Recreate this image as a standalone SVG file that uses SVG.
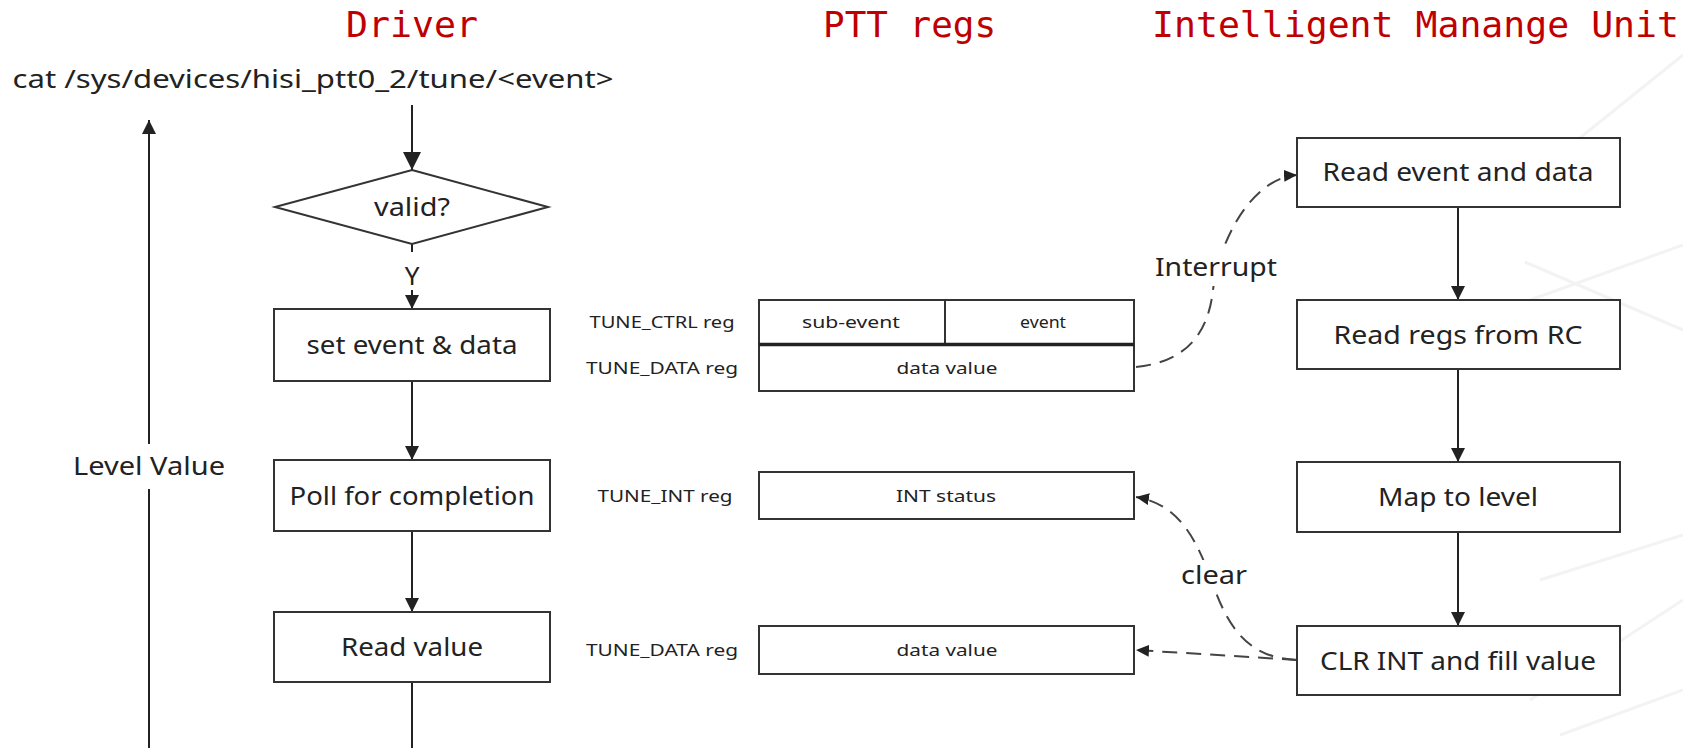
<svg xmlns="http://www.w3.org/2000/svg" width="1683" height="748" viewBox="0 0 1683 748">
<style>
.title{font-family:"DejaVu Sans Mono","Liberation Mono",monospace;font-size:36px;fill:#c00000}
.t{font-family:"Noto Sans","DejaVu Sans",sans-serif;font-size:26px;fill:#222;text-anchor:middle}
.s{font-family:"Noto Sans","DejaVu Sans",sans-serif;font-size:17px;fill:#222;text-anchor:middle}
.box{fill:#fff;stroke:#333;stroke-width:2}
.line{fill:none;stroke:#222;stroke-width:2}
.dash{fill:none;stroke:#444;stroke-width:2;stroke-dasharray:15 9}
.bg{stroke:#f3f3f3;stroke-width:3;fill:none}
</style>
<defs>
<marker id="ah" markerUnits="userSpaceOnUse" markerWidth="14" markerHeight="14" refX="14" refY="7" orient="auto"><path d="M0,0 L14,7 L0,14 z" fill="#222"/></marker>
<marker id="ahb" markerUnits="userSpaceOnUse" markerWidth="18" markerHeight="18" refX="18" refY="9" orient="auto"><path d="M0,0 L18,9 L0,18 z" fill="#222"/></marker>
<marker id="ahd" markerUnits="userSpaceOnUse" markerWidth="14" markerHeight="14" refX="13" refY="6" orient="auto"><path d="M0,0 L13,6 L0,12 z" fill="#222"/></marker>
</defs>
<rect width="1683" height="748" fill="#fff"/>
<g id="background">
<path class="bg" d="M1540,170 L1683,55"/>
<path class="bg" d="M1525,262 L1683,330"/>
<path class="bg" d="M1530,300 L1683,245"/>
<path class="bg" d="M1540,580 L1683,535"/>
<path class="bg" d="M1530,700 L1683,600"/>
<path class="bg" d="M1560,735 L1683,690"/>
</g>
<g id="headers">
<text class="title" x="346" y="37" textLength="132" lengthAdjust="spacingAndGlyphs">Driver</text>
<text class="title" x="823" y="37" textLength="173" lengthAdjust="spacingAndGlyphs">PTT regs</text>
<text class="title" x="1152" y="37" textLength="527" lengthAdjust="spacingAndGlyphs">Intelligent Manange Unit</text>
</g>
<g id="connectors">
<path class="line" d="M412,105 L412,170" marker-end="url(#ahb)"/>
<path class="line" d="M412,244 L412,252"/>
<path class="line" d="M412,290 L412,309" marker-end="url(#ah)"/>
<path class="line" d="M412,381 L412,460" marker-end="url(#ah)"/>
<path class="line" d="M412,531 L412,612" marker-end="url(#ah)"/>
<path class="line" d="M412,682 L412,748"/>
<path class="line" d="M149,444 L149,120" marker-end="url(#ah)"/>
<path class="line" d="M149,748 L149,489"/>
<path class="line" d="M1458,207 L1458,300" marker-end="url(#ah)"/>
<path class="line" d="M1458,369 L1458,462" marker-end="url(#ah)"/>
<path class="line" d="M1458,532 L1458,626" marker-end="url(#ah)"/>
<path class="dash" d="M1136,367 C1185,362 1208,335 1213,290 C1218,245 1250,178 1297,175" marker-end="url(#ahd)"/>
<path class="dash" d="M1297,660 C1250,658 1230,630 1215,590 C1200,550 1185,505 1136,497" marker-end="url(#ahd)"/>
<path class="dash" d="M1297,660 L1136,650" marker-end="url(#ahd)"/>
</g>
<g id="cmd">
<text class="t" x="313" y="88" textLength="601" lengthAdjust="spacingAndGlyphs">cat /sys/devices/hisi_ptt0_2/tune/&lt;event&gt;</text>
</g>
<g id="level-value">
<text class="t" x="149" y="475" textLength="152" lengthAdjust="spacingAndGlyphs">Level Value</text>
</g>
<g id="valid">
<polygon class="box" points="412,170 548,207 412,244 275,207"/>
<text class="t" x="412" y="216" textLength="76" lengthAdjust="spacingAndGlyphs">valid?</text>
</g>
<g id="label-y">
<text class="t" x="412" y="285">Y</text>
</g>
<g id="set-event">
<rect class="box" x="274" y="309" width="276" height="72"/>
<text class="t" x="412" y="354" textLength="211" lengthAdjust="spacingAndGlyphs">set event &amp; data</text>
</g>
<g id="poll">
<rect class="box" x="274" y="460" width="276" height="71"/>
<text class="t" x="412" y="505" textLength="245" lengthAdjust="spacingAndGlyphs">Poll for completion</text>
</g>
<g id="read-value">
<rect class="box" x="274" y="612" width="276" height="70"/>
<text class="t" x="412" y="656" textLength="142" lengthAdjust="spacingAndGlyphs">Read value</text>
</g>
<g id="tune-ctrl">
<text class="s" x="662" y="328" textLength="145" lengthAdjust="spacingAndGlyphs">TUNE_CTRL reg</text>
<rect class="box" x="759" y="300" width="375" height="44"/>
<line x1="945" y1="300" x2="945" y2="344" stroke="#333" stroke-width="2"/>
<text class="s" x="851" y="328" textLength="98" lengthAdjust="spacingAndGlyphs">sub-event</text>
<text class="s" x="1043" y="328" textLength="46" lengthAdjust="spacingAndGlyphs">event</text>
</g>
<g id="tune-data-1">
<text class="s" x="662" y="374" textLength="152" lengthAdjust="spacingAndGlyphs">TUNE_DATA reg</text>
<rect class="box" x="759" y="345" width="375" height="46"/>
<line x1="759" y1="344.5" x2="1134" y2="344.5" stroke="#222" stroke-width="3.5"/>
<text class="s" x="947" y="374" textLength="101" lengthAdjust="spacingAndGlyphs">data value</text>
</g>
<g id="tune-int">
<text class="s" x="665" y="502" textLength="135" lengthAdjust="spacingAndGlyphs">TUNE_INT reg</text>
<rect class="box" x="759" y="472" width="375" height="47"/>
<text class="s" x="946" y="502" textLength="100" lengthAdjust="spacingAndGlyphs">INT status</text>
</g>
<g id="tune-data-2">
<text class="s" x="662" y="656" textLength="152" lengthAdjust="spacingAndGlyphs">TUNE_DATA reg</text>
<rect class="box" x="759" y="626" width="375" height="48"/>
<text class="s" x="947" y="656" textLength="101" lengthAdjust="spacingAndGlyphs">data value</text>
</g>
<g id="read-event">
<rect class="box" x="1297" y="138" width="323" height="69"/>
<text class="t" x="1458" y="181" textLength="271" lengthAdjust="spacingAndGlyphs">Read event and data</text>
</g>
<g id="read-regs">
<rect class="box" x="1297" y="300" width="323" height="69"/>
<text class="t" x="1458" y="344" textLength="249" lengthAdjust="spacingAndGlyphs">Read regs from RC</text>
</g>
<g id="map-level">
<rect class="box" x="1297" y="462" width="323" height="70"/>
<text class="t" x="1458" y="506" textLength="160" lengthAdjust="spacingAndGlyphs">Map to level</text>
</g>
<g id="clr-int">
<rect class="box" x="1297" y="626" width="323" height="69"/>
<text class="t" x="1458" y="670" textLength="276" lengthAdjust="spacingAndGlyphs">CLR INT and fill value</text>
</g>
<g id="label-interrupt">
<rect x="1190" y="250" width="50" height="36" fill="#fff"/>
<text class="t" x="1216" y="276" textLength="122" lengthAdjust="spacingAndGlyphs">Interrupt</text>
</g>
<g id="label-clear">
<rect x="1192" y="560" width="44" height="32" fill="#fff"/>
<text class="t" x="1214" y="584" textLength="66" lengthAdjust="spacingAndGlyphs">clear</text>
</g>
</svg>
